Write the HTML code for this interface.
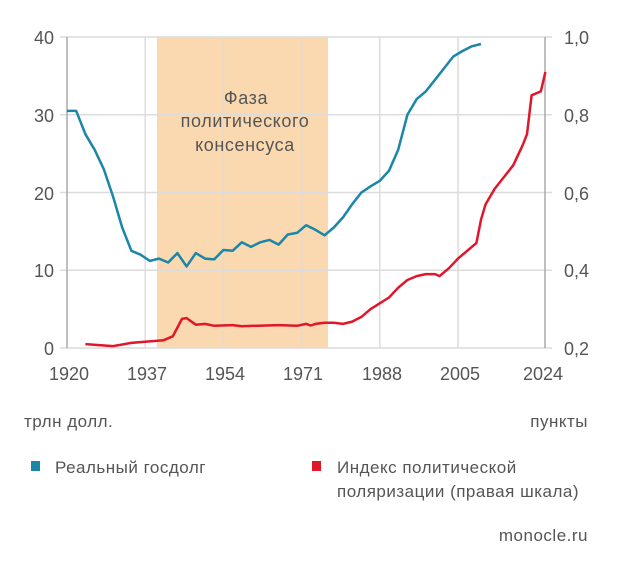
<!DOCTYPE html>
<html><head><meta charset="utf-8"><style>
html,body{margin:0;padding:0;background:#fff;}
svg{display:block;font-family:"Liberation Sans",sans-serif;}
</style></head><body>
<svg id="s" width="620" height="570" viewBox="0 0 620 570" xmlns="http://www.w3.org/2000/svg">
<rect width="620" height="570" fill="#fff"/>
<rect x="157" y="37" width="171" height="311" fill="#fbd9b0"/>
<g id="grid" stroke="#dcdcdc" stroke-width="1.5"></g>
<line x1="67" y1="37" x2="67" y2="348" stroke="#aaa" stroke-width="1.5"/>
<line x1="545" y1="37" x2="545" y2="348" stroke="#aaa" stroke-width="1.5"/>
<g font-size="18" fill="#555" text-anchor="end">
<text x="54" y="44">40</text><text x="54" y="122">30</text><text x="54" y="200">20</text><text x="54" y="277">10</text><text x="54" y="355">0</text>
</g>
<g font-size="18" fill="#555">
<text x="564" y="44">1,0</text><text x="564" y="122">0,8</text><text x="564" y="200">0,6</text><text x="564" y="277">0,4</text><text x="564" y="355">0,2</text>
</g>
<g font-size="18" fill="#555" text-anchor="middle">
<text x="69" y="380">1920</text><text x="147" y="380">1937</text><text x="225" y="380">1954</text><text x="303" y="380">1971</text><text x="382" y="380">1988</text><text x="460" y="380">2005</text><text x="543" y="380">2024</text>
</g>
<g font-size="18" fill="#555" text-anchor="middle" letter-spacing="0.6">
<text x="246" y="104">Фаза</text><text x="245" y="127">политического</text><text x="245" y="151">консенсуса</text>
</g>
<polyline id="b" fill="none" stroke="#1a86a8" stroke-width="2.5" stroke-linejoin="round"/>
<polyline id="r" fill="none" stroke="#e0162b" stroke-width="2.5" stroke-linejoin="round"/>
<g font-size="17" fill="#555" letter-spacing="0.5">
<text x="24" y="427">трлн долл.</text>
<text x="588" y="427" text-anchor="end">пункты</text>
<rect x="31" y="461" width="9" height="10" fill="#1a86a8"/>
<text x="55" y="473">Реальный госдолг</text>
<rect x="312" y="461" width="9" height="10" fill="#e0162b"/>
<text x="337" y="473">Индекс политической</text>
<text x="337" y="497">поляризации (правая шкала)</text>
<text x="588" y="541" text-anchor="end">monocle.ru</text>
</g>
</svg>
<script>
var X=function(y){return 67+(y-1920)*4.6;},YL=function(v){return 348-v*7.775;},YR=function(r){return 348-(r-0.2)/0.8*311;};
var g=document.getElementById('grid'),ns='http://www.w3.org/2000/svg';
[1937,1954,1971,1988,2005].forEach(function(y){var l=document.createElementNS(ns,'line');l.setAttribute('x1',X(y));l.setAttribute('x2',X(y));l.setAttribute('y1',37);l.setAttribute('y2',348);g.appendChild(l);});
[0,10,20,30,40].forEach(function(v){var l=document.createElementNS(ns,'line');l.setAttribute('x1',60);l.setAttribute('x2',552);l.setAttribute('y1',YL(v));l.setAttribute('y2',YL(v));g.appendChild(l);});
var b=[[1920,30.5],[1922,30.5],[1924,27.5],[1926,25.5],[1928,23],[1930,19.5],[1932,15.5],[1934,12.5],[1936,12],[1938,11.2],[1940,11.5],[1942,11],[1944,12.2],[1946,10.5],[1948,12.2],[1950,11.5],[1952,11.4],[1954,12.6],[1956,12.5],[1958,13.6],[1960,13],[1962,13.6],[1964,13.9],[1966,13.3],[1968,14.6],[1970,14.8],[1972,15.8],[1974,15.2],[1976,14.5],[1978,15.5],[1980,16.8],[1982,18.5],[1984,20],[1986,20.8],[1988,21.5],[1990,22.8],[1992,25.5],[1994,30],[1996,32],[1998,33],[2000,34.5],[2002,36],[2004,37.5],[2006,38.2],[2008,38.8],[2010,39.1]];
var r=[[1924,0.21],[1930,0.205],[1934,0.213],[1938,0.217],[1941,0.22],[1943,0.23],[1945,0.275],[1946,0.277],[1948,0.26],[1950,0.262],[1952,0.257],[1956,0.259],[1958,0.256],[1966,0.259],[1970,0.257],[1972,0.262],[1973,0.258],[1974,0.262],[1976,0.265],[1978,0.265],[1980,0.262],[1982,0.268],[1984,0.28],[1986,0.3],[1988,0.315],[1990,0.33],[1992,0.355],[1994,0.375],[1996,0.385],[1998,0.39],[2000,0.39],[2001,0.385],[2003,0.405],[2005,0.43],[2007,0.45],[2009,0.47],[2010,0.53],[2011,0.57],[2013,0.61],[2015,0.64],[2017,0.67],[2019,0.72],[2020,0.75],[2021,0.85],[2022,0.855],[2023,0.86],[2024,0.91]];
document.getElementById('b').setAttribute('points',b.map(function(p){return X(p[0]).toFixed(1)+','+YL(p[1]).toFixed(1);}).join(' '));
document.getElementById('r').setAttribute('points',r.map(function(p){return X(p[0]).toFixed(1)+','+YR(p[1]).toFixed(1);}).join(' '));
</script>
</body></html>
